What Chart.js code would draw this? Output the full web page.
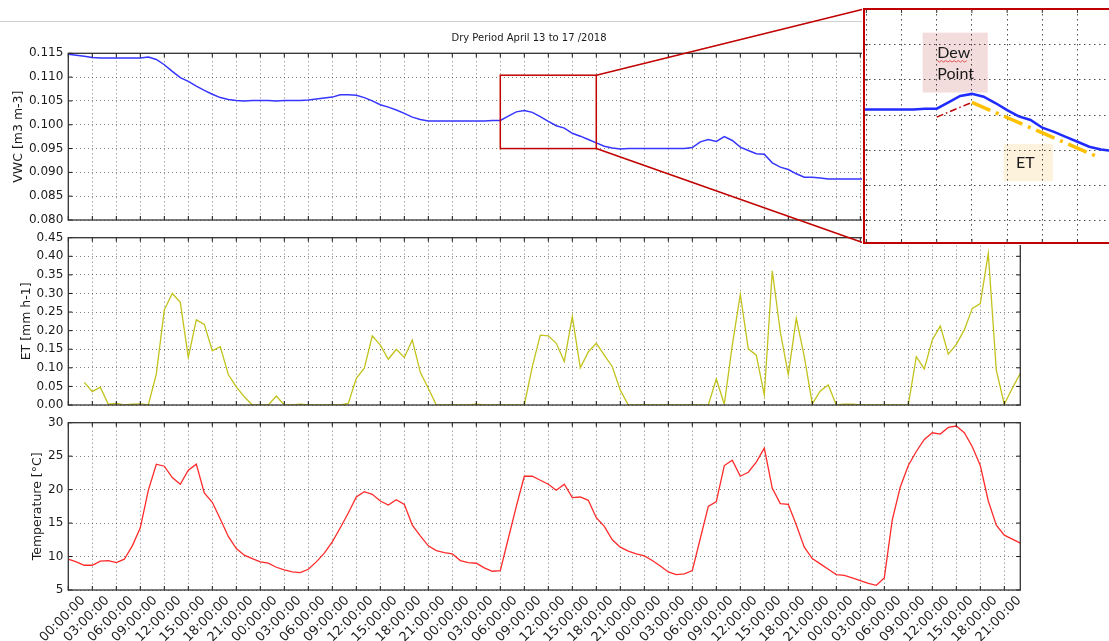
<!DOCTYPE html>
<html>
<head>
<meta charset="utf-8">
<script src="https://cdn.jsdelivr.net/npm/chart.js@4.4.1/dist/chart.umd.min.js"></script>
<style>
  html, body { margin: 0; padding: 0; background: #fff; overflow: hidden; }
  #page { position: relative; width: 1109px; height: 641px; }
  #page canvas { position: absolute; }
  #topline { position: absolute; left: 0; top: 21px; width: 863px; border-top: 1px solid #cfcfcf; }
</style>
</head>
<body>
<div id="page">
  <div id="topline"></div>
  <canvas id="vwcChart" width="1109" height="225" style="left:0;top:0"></canvas>
  <canvas id="etChart" width="1109" height="185" style="left:0;top:225px"></canvas>
  <canvas id="tempChart" width="1109" height="231" style="left:0;top:410px"></canvas>
  <canvas id="overlay" width="1109" height="641" style="left:0;top:0;z-index:2"></canvas>
  <canvas id="insetChart" width="265" height="238" style="left:862px;top:7px;z-index:3;background:#fff"></canvas>
</div>
<script>
// --- 데이터 (1시간 간격, 4월 13일 00:00 부터) ---
const tickLabels = ['00:00:00', '03:00:00', '06:00:00', '09:00:00', '12:00:00', '15:00:00', '18:00:00', '21:00:00'];

const vwc = [
  0.1148, 0.1146, 0.1144, 0.1141, 0.1140, 0.1140, 0.1140, 0.1140, 0.1140, 0.1140,
  0.1142, 0.1137, 0.1126, 0.1112, 0.1099, 0.1091, 0.1081, 0.1072, 0.1064, 0.1057,
  0.1053, 0.1051, 0.1050, 0.1051, 0.1051, 0.1051, 0.1050, 0.1051, 0.1051, 0.1051,
  0.1052, 0.1054, 0.1056, 0.1058, 0.1063, 0.1063, 0.1062, 0.1057, 0.1050, 0.1042,
  0.1037, 0.1031, 0.1024, 0.1016, 0.1011, 0.1008, 0.1008, 0.1008, 0.1008, 0.1008,
  0.1008, 0.1008, 0.1008, 0.1009, 0.1009, 0.1018, 0.1027, 0.1030, 0.1026, 0.1017,
  0.1007, 0.0998, 0.0993, 0.0982, 0.0976, 0.0969, 0.0962, 0.0955, 0.0951, 0.0949,
  0.0950, 0.0950, 0.0950, 0.0950, 0.0950, 0.0950, 0.0950, 0.0950, 0.0952, 0.0964,
  0.0969, 0.0965, 0.0975, 0.0967, 0.0953, 0.0946, 0.0939, 0.0938, 0.0920, 0.0911,
  0.0906, 0.0897, 0.0890, 0.0890, 0.0888, 0.0886, 0.0886, 0.0886, 0.0886, 0.0886,
  0.0886
];

const et = [
  null, null, 0.061, 0.036, 0.048, 0.002, 0.004, 0.000, 0.002, 0.003,
  0.000, 0.083, 0.256, 0.300, 0.276, 0.128, 0.229, 0.217, 0.146, 0.157,
  0.082, 0.049, 0.022, 0.000, 0.000, 0.000, 0.024, 0.000, 0.000, 0.002,
  0.000, 0.000, 0.000, 0.000, 0.000, 0.004, 0.072, 0.099, 0.186, 0.161,
  0.123, 0.150, 0.128, 0.175, 0.088, 0.045, 0.000, 0.000, 0.000, 0.000,
  0.000, 0.002, 0.000, 0.000, 0.000, 0.000, 0.000, 0.000, 0.103, 0.188,
  0.186, 0.166, 0.117, 0.238, 0.100, 0.143, 0.166, 0.134, 0.103, 0.040,
  0.000, 0.000, 0.001, 0.000, 0.000, 0.000, 0.000, 0.000, 0.000, 0.000,
  0.000, 0.070, 0.002, 0.161, 0.298, 0.151, 0.134, 0.027, 0.361, 0.197,
  0.082, 0.233, 0.130, 0.003, 0.038, 0.054, 0.000, 0.002, 0.002, 0.000,
  0.000, 0.000, 0.000, 0.000, 0.000, 0.000, 0.130, 0.097, 0.175, 0.213,
  0.137, 0.163, 0.202, 0.260, 0.273, 0.408, 0.094, 0.002, 0.045, 0.085
];

const temp = [
  9.6, 9.2, 8.7, 8.7, 9.3, 9.4, 9.1, 9.6, 11.6, 14.3,
  19.9, 23.8, 23.5, 21.8, 20.8, 22.9, 23.8, 19.5, 18.1, 15.6,
  13.0, 11.2, 10.2, 9.7, 9.2, 9.0, 8.4, 8.0, 7.7, 7.6,
  8.1, 9.2, 10.5, 12.2, 14.3, 16.5, 18.9, 19.7, 19.3, 18.3,
  17.7, 18.5, 17.8, 14.7, 13.1, 11.6, 10.9, 10.6, 10.4, 9.4,
  9.1, 9.0, 8.3, 7.8, 7.9, 12.7, 17.5, 22.0, 22.0, 21.4,
  20.8, 19.9, 20.8, 18.8, 18.9, 18.4, 15.8, 14.5, 12.5, 11.4,
  10.8, 10.4, 10.1, 9.4, 8.6, 7.7, 7.3, 7.4, 7.9, 12.7,
  17.5, 18.2, 23.6, 24.4, 22.0, 22.6, 24.1, 26.2, 20.2, 17.9,
  17.8, 14.7, 11.4, 9.7, 8.9, 8.1, 7.3, 7.2, 6.8, 6.4,
  6.0, 5.7, 6.8, 15.5, 20.4, 23.6, 25.7, 27.5, 28.5, 28.3,
  29.3, 29.5, 28.5, 26.4, 23.6, 18.3, 14.7, 13.2, 12.6, 12.0
];

// 확대 구간 (시간, VWC)
const zoomHours = [54, 66];
const zoomVwc = [0.0950, 0.1104];
// 확대 그림 안의 보조선
const dewHours = [54, 57];
const dewVwc = [0.0997, 0.1018];
const etTrendHours = [57, 67.8];
const etTrendVwc = [0.1018, 0.0940];

const pts = arr => arr.map((v, i) => ({ x: i, y: v }));
const pair = (xs, ys) => xs.map((x, i) => ({ x: x, y: ys[i] }));

const FONT = 'DejaVu Sans';
const INK = '#1a1a1a';
const GRID = 'rgba(0,0,0,0.5)';

// --- 축 테두리 + 안쪽 눈금 ---
const framePlugin = {
  id: 'frame',
  afterDraw(chart, args, opts) {
    const { ctx, chartArea: a, scales } = chart;
    ctx.save();
    ctx.strokeStyle = opts.tickColor || '#111';
    ctx.lineWidth = 1;
    ctx.beginPath();
    scales.x.ticks.forEach(t => {
      const px = scales.x.getPixelForValue(t.value);
      ctx.moveTo(px, a.bottom); ctx.lineTo(px, a.bottom - 4);
      ctx.moveTo(px, a.top); ctx.lineTo(px, a.top + 4);
    });
    scales.y.ticks.forEach(t => {
      const py = scales.y.getPixelForValue(t.value);
      ctx.moveTo(a.left, py); ctx.lineTo(a.left + 4, py);
      ctx.moveTo(a.right, py); ctx.lineTo(a.right - 4, py);
    });
    ctx.stroke();
    ctx.strokeStyle = opts.color || '#333';
    ctx.lineWidth = opts.width || 1.3;
    ctx.strokeRect(a.left, a.top, a.width, a.height);
    if (opts.heading) {
      ctx.fillStyle = INK;
      ctx.font = '10px "' + FONT + '"';
      ctx.textAlign = 'center';
      ctx.textBaseline = 'middle';
      ctx.fillText(opts.heading.text, opts.heading.x, opts.heading.y);
    }
    ctx.restore();
  }
};

// 축 라벨 때문에 생기는 여백 제거
const noPad = s => { s.paddingTop = 0; s.paddingBottom = 0; s.paddingLeft = 0; s.paddingRight = 0; };

function panel(cfg) {
  return {
    responsive: false, animation: false, events: [],
    layout: { padding: { left: cfg.padLeft, right: 88.7, top: cfg.padTop, bottom: cfg.padBottom } },
    plugins: { legend: { display: false }, tooltip: { enabled: false }, frame: cfg.frame || {} },
    scales: {
      x: {
        type: 'linear', min: 0, max: 119,
        ticks: {
          display: cfg.showX, stepSize: 3, includeBounds: false, autoSkip: false,
          minRotation: 45, maxRotation: 45, labelOffset: 15, padding: 3,
          color: INK, font: { family: FONT, size: 13 },
          callback: v => tickLabels[Math.round(v / 3) % 8]
        },
        grid: { color: GRID, lineWidth: 1, drawTicks: false },
        border: { display: false, dash: [1, 3] },
        afterFit: s => { s.height = cfg.xHeight; noPad(s); }
      },
      y: {
        min: cfg.min, max: cfg.max,
        ticks: {
          stepSize: cfg.step, includeBounds: false, padding: 5,
          color: INK, font: { family: FONT, size: 12 },
          callback: v => v.toFixed(cfg.dec)
        },
        grid: { color: GRID, lineWidth: 1, drawTicks: false },
        border: { display: false, dash: [1, 3] },
        title: { display: true, text: cfg.title, color: INK, font: { family: FONT, size: 12.5 }, padding: 0 },
        afterFit: s => { s.width = 68.3 - cfg.padLeft; noPad(s); }
      }
    }
  };
}

const lineStyle = { pointRadius: 0, tension: 0, fill: false };

const vwcChart = new Chart(document.getElementById('vwcChart'), {
  type: 'line',
  data: { datasets: [{ ...lineStyle, data: pts(vwc), borderColor: '#3535ff', borderWidth: 1.5 }] },
  options: panel({ padLeft: 11, padTop: 53.3, padBottom: 5, xHeight: 0, showX: false,
    min: 0.080, max: 0.115, step: 0.005, dec: 3, title: 'VWC [m3 m-3]',
    frame: { heading: { text: 'Dry Period April 13 to 17 /2018', x: 529, y: 38 } } }),
  plugins: [framePlugin]
});

const etChart = new Chart(document.getElementById('etChart'), {
  type: 'line',
  data: { datasets: [{ ...lineStyle, data: pts(et), borderColor: '#c2c21c', borderWidth: 1.3 }] },
  options: panel({ padLeft: 19.5, padTop: 12.7, padBottom: 5, xHeight: 0, showX: false,
    min: 0, max: 0.45, step: 0.05, dec: 2, title: 'ET [mm h-1]' }),
  plugins: [framePlugin]
});

const tempChart = new Chart(document.getElementById('tempChart'), {
  type: 'line',
  data: { datasets: [{ ...lineStyle, data: pts(temp), borderColor: '#ff2a2a', borderWidth: 1.3 }] },
  options: panel({ padLeft: 30, padTop: 12.7, padBottom: 0, xHeight: 51, showX: true,
    min: 5, max: 30, step: 5, dec: 0, title: 'Temperature [°C]' }),
  plugins: [framePlugin]
});

// --- 확대 그림 (Dew Point / ET 설명) ---
const notesPlugin = {
  id: 'notes',
  afterDatasetsDraw(chart) {
    const { ctx, scales: { x, y } } = chart;
    const box = (h0, h1, v0, v1, color) => {
      ctx.fillStyle = color;
      ctx.fillRect(x.getPixelForValue(h0), y.getPixelForValue(v0),
        x.getPixelForValue(h1) - x.getPixelForValue(h0), y.getPixelForValue(v1) - y.getPixelForValue(v0));
    };
    ctx.save();
    ctx.globalCompositeOperation = 'destination-over';
    box(52.8, 58.35, 0.1117, 0.1032, '#f3dcdc');
    box(59.7, 63.9, 0.0959, 0.0906, '#fdf2dc');
    ctx.globalCompositeOperation = 'source-over';
    ctx.fillStyle = INK;
    ctx.font = '16px Lato';
    ctx.textBaseline = 'middle';
    ctx.textAlign = 'left';
    const lx = x.getPixelForValue(54.05);
    ctx.fillText('Dew', lx, y.getPixelForValue(0.1088));
    ctx.fillText('Point', lx, y.getPixelForValue(0.1058));
    ctx.textAlign = 'center';
    ctx.fillText('ET', x.getPixelForValue(61.55), y.getPixelForValue(0.0932));
    // 맞춤법 밑줄
    ctx.strokeStyle = '#e03030'; ctx.lineWidth = 0.8;
    ctx.beginPath();
    const uy = y.getPixelForValue(0.1088) + 8;
    for (let i = 0; i <= 14; i++) ctx.lineTo(lx + i * 2.1, uy + (i % 2 ? 1 : -0.5));
    ctx.stroke();
    ctx.restore();
  }
};

const insetChart = new Chart(document.getElementById('insetChart'), {
  type: 'line',
  data: { datasets: [
    { ...lineStyle, data: pts(vwc), borderColor: '#1f2bff', borderWidth: 2.5 },
    { ...lineStyle, data: pair(dewHours, dewVwc), borderColor: '#c00000', borderWidth: 1.5, borderDash: [7, 3, 1.5, 3] },
    { ...lineStyle, data: pair(etTrendHours, etTrendVwc), borderColor: '#ffc000', borderWidth: 3.5, borderDash: [20, 6, 3, 6] }
  ] },
  options: {
    responsive: false, animation: false, events: [],
    layout: { padding: 2 },
    plugins: { legend: { display: false }, tooltip: { enabled: false }, frame: { color: '#c00000', width: 2, tickColor: '#333' } },
    scales: {
      x: { type: 'linear', min: 47.8, max: 70.05,
        ticks: { display: false, stepSize: 3, includeBounds: false },
        grid: { color: 'rgba(0,0,0,0.7)', drawTicks: false }, border: { display: false, dash: [1.5, 3.5] },
        afterFit: s => { s.height = 0; noPad(s); } },
      y: { min: 0.08182, max: 0.11506,
        ticks: { display: false, stepSize: 0.005, includeBounds: false },
        grid: { color: 'rgba(0,0,0,0.7)', drawTicks: false }, border: { display: false, dash: [1.5, 3.5] },
        afterFit: s => { s.width = 0; noPad(s); } }
    }
  },
  plugins: [framePlugin, notesPlugin]
});

// --- 확대 상자와 연결선 ---
(function drawZoomLinks() {
  const ctx = document.getElementById('overlay').getContext('2d');
  const xs = vwcChart.scales.x, ys = vwcChart.scales.y;
  const x0 = xs.getPixelForValue(zoomHours[0]), x1 = xs.getPixelForValue(zoomHours[1]);
  const yTop = ys.getPixelForValue(zoomVwc[1]), yBot = ys.getPixelForValue(zoomVwc[0]);
  const el = document.getElementById('insetChart');
  const ia = insetChart.chartArea;
  const ix = el.offsetLeft + ia.left, iyTop = el.offsetTop + ia.top, iyBot = el.offsetTop + ia.bottom;
  ctx.strokeStyle = '#c00000';
  ctx.lineWidth = 1.5;
  ctx.strokeRect(x0, yTop, x1 - x0, yBot - yTop);
  ctx.beginPath();
  ctx.moveTo(x1, yTop); ctx.lineTo(ix, iyTop);
  ctx.moveTo(x1, yBot); ctx.lineTo(ix, iyBot);
  ctx.stroke();
})();
</script>
</body>
</html>
